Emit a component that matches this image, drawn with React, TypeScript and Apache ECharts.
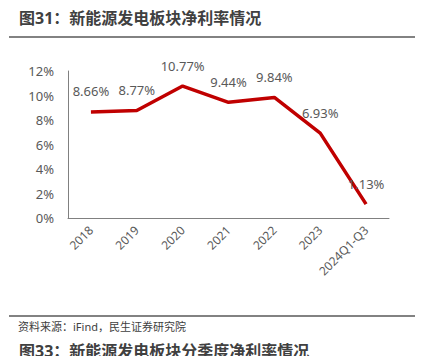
import React, { useEffect, useRef } from "react";
import * as echarts from "echarts";

const categories = ["2018", "2019", "2020", "2021", "2022", "2023", "2024Q1-Q3"];
const netMargin = [8.66, 8.77, 10.77, 9.44, 9.84, 6.93, 1.13];
const yTicks = [0, 2, 4, 6, 8, 10, 12];
const titleText = "图31：新能源发电板块净利率情况";
const sourceText = "资料来源：iFind，民生证券研究院";
const nextTitleText = "图33：新能源发电板块分季度净利率情况";

const FONT = "'Noto Sans', 'Noto Sans CJK SC', sans-serif";

export default function App() {
  const ref = useRef<HTMLDivElement>(null);
  useEffect(() => {
    if (!ref.current) return;
    const chart = echarts.init(ref.current, null, { renderer: "svg" });
    chart.setOption({
      animation: false,
      backgroundColor: "#ffffff",
      textStyle: { fontFamily: FONT },
      grid: { left: 68, top: 71, width: 321, height: 147, containLabel: false },
      xAxis: {
        type: "category",
        data: categories,
        boundaryGap: true,
        axisLine: { show: true, lineStyle: { color: "#808080", width: 1 } },
        axisTick: { show: false },
        axisLabel: {
          rotate: 45,
          color: "#595959",
          fontSize: 12,
          fontFamily: FONT,
          margin: 10,
          interval: 0,
        },
      },
      yAxis: {
        type: "value",
        min: yTicks[0],
        max: yTicks[yTicks.length - 1],
        interval: 2,
        axisLine: { show: true, lineStyle: { color: "#808080", width: 1 } },
        axisTick: { show: false },
        splitLine: { show: false },
        axisLabel: {
          color: "#595959",
          fontSize: 13,
          fontFamily: FONT,
          margin: 14,
          formatter: (v: number) => `${v}%`,
        },
      },
      series: [
        {
          type: "line",
          data: netMargin,
          showSymbol: true,
          symbol: "circle",
          symbolSize: 2,
          lineStyle: { color: "#C00000", width: 3.5 },
          itemStyle: { color: "rgba(0,0,0,0)", borderWidth: 0 },
          label: {
            show: true,
            position: "top",
            distance: 13,
            color: "#595959",
            fontSize: 13,
            fontFamily: FONT,
            formatter: (p: any) => `${Number(p.value).toFixed(2)}%`,
          },
        },
      ],
      graphic: [
        {
          type: "text",
          left: 19,
          top: 10,
          style: {
            text: titleText,
            fill: "#404040",
            font: `bold 16px ${FONT}`,
          },
        },
        {
          type: "line",
          shape: { x1: 9, y1: 37, x2: 415, y2: 37 },
          style: { stroke: "#595959", lineWidth: 1.5 },
        },
        {
          type: "line",
          shape: { x1: 9, y1: 316, x2: 415, y2: 316 },
          style: { stroke: "#595959", lineWidth: 1.5 },
        },
        {
          type: "text",
          left: 18,
          top: 321,
          style: {
            text: sourceText,
            fill: "#404040",
            font: `11px ${FONT}`,
          },
        },
        {
          type: "text",
          left: 19,
          top: 343,
          style: {
            text: nextTitleText,
            fill: "#404040",
            font: `bold 16px ${FONT}`,
          },
        },
      ],
    });
    return () => chart.dispose();
  }, []);
  return (
    <div
      ref={ref}
      style={{ position: "fixed", left: 0, top: 0, width: 423, height: 356 }}
    />
  );
}
